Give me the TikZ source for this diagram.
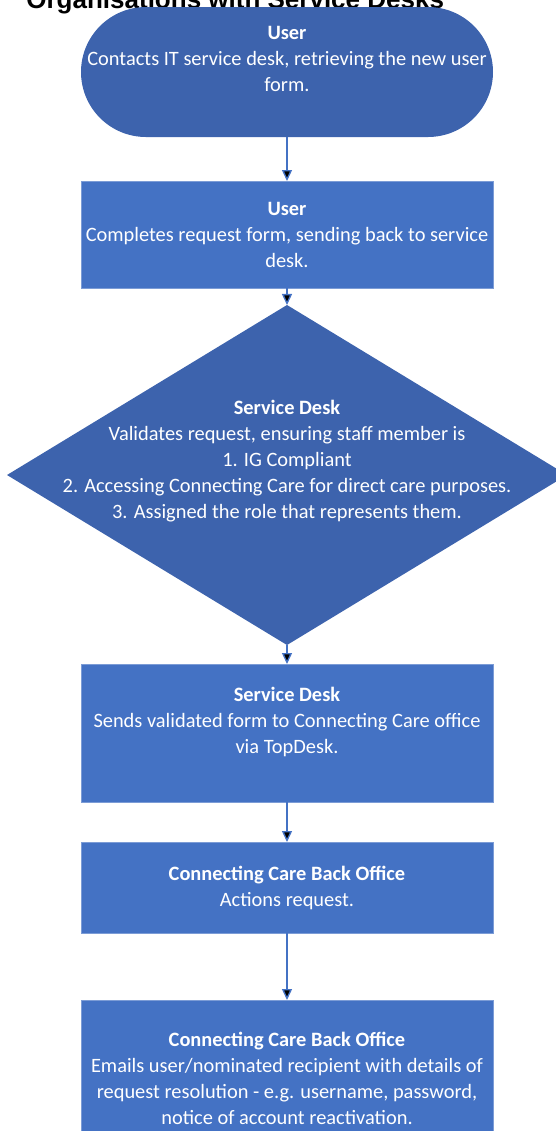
\documentclass[tikz,border=0pt]{standalone}
\usepackage{fontspec}
\setmainfont{Carlito}
\newfontfamily\headfont{Liberation Sans}
\usetikzlibrary{
        arrows.meta,
        positioning,
        shapes.geometric
    }
\definecolor{termblue}{RGB}{61,99,173}
\definecolor{procblue}{RGB}{68,114,196}
\tikzset{>={Triangle[width=5pt,length=5.5pt]},node distance=20pt}
\tikzset{
    boxtext/.style={text=white,align=center,inner sep=0pt,outer sep=0pt,
        font=\fontsize{10.2}{13}\selectfont},
    terminal/.style={boxtext,rectangle,rounded corners=32.5pt,fill=termblue,
        minimum width=206pt,minimum height=65pt},
    process/.style={boxtext,rectangle,fill=procblue,draw=procblue!70!white,
        line width=0.4pt,minimum width=206pt},
    decision/.style={boxtext,diamond,fill=termblue,
        minimum width=280pt,minimum height=170pt},
    flow/.style={->,draw=procblue,line width=0.7pt}
}

\begin{document}
\begin{tikzpicture}[x=0.5pt,y=-0.5pt]
    \useasboundingbox (0,0) rectangle (556,1131);
    \node[anchor=base west,inner sep=0pt,
          font=\headfont\bfseries\fontsize{13}{15}\selectfont] (title) at (26,8)
          {Organisations with Service Desks};

    \node[terminal] (contact) at (287,72)
        {\textbf{User}\\Contacts IT service desk, retrieving the new user\\form.\\\mbox{}};
    \node[process,minimum height=53.5pt,below=22pt of contact] (complete)
        {\textbf{User}\\Completes request form, sending back to service\\desk.};
    % the diamond is too narrow for its text, so the text sits on top of it
    \node[decision,below=8.5pt of complete] (validate) {};
    \node[boxtext] (validtext) at ([yshift=7pt]validate.center)
        {\textbf{Service Desk}\\Validates request, ensuring staff member is\\1. IG Compliant\\
         2. Accessing Connecting Care for direct care purposes.\\
         3. Assigned the role that represents them.};
    \node[process,minimum height=69pt,below=9.5pt of validate] (send)
        {\textbf{Service Desk}\\Sends validated form to Connecting Care office\\via TopDesk.\\\mbox{}};
    \node[process,minimum height=45.5pt,below=20pt of send] (actions)
        {\textbf{Connecting Care Back Office}\\Actions request.};
    \node[process,minimum height=78pt,below=33.5pt of actions] (emails)
        {\textbf{Connecting Care Back Office}\\Emails user/nominated recipient with details of\\
         request resolution - e.g. username, password,\\notice of account reactivation.};

    \path[flow]
        (contact)  edge (complete)
        (complete) edge (validate)
        (validate) edge (send)
        (send)     edge (actions)
        (actions)  edge (emails)
    ;
\end{tikzpicture}
\end{document}
